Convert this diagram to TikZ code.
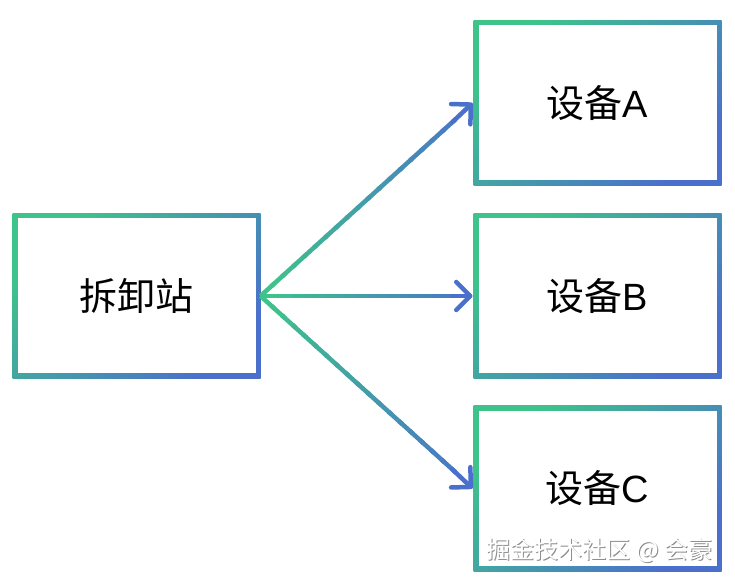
\documentclass[tikz,border=0pt]{standalone}
\usepackage{fontspec}
\setmainfont{Liberation Sans}
\newfontfamily\cjk{Noto Sans CJK SC}
\usepackage{tikz}
\usepackage{xcolor}
\usetikzlibrary{arrows.meta,calc}

\definecolor{grn}{RGB}{62,196,138}
\definecolor{blu}{RGB}{74,112,204}
\tikzset{
  box/.style={minimum width=248pt, minimum height=165pt, inner sep=0pt, outer sep=0pt,
    font=\fontsize{38}{42}\selectfont,
    path picture={
      \shade[top color=grn, bottom color=blu, shading angle=45]
        (path picture bounding box.south west) rectangle (path picture bounding box.north east);
      \fill[white] ([shift={(5pt,5pt)}]path picture bounding box.south west)
        rectangle ([shift={(-5pt,-5pt)}]path picture bounding box.north east);
    }},
  link/.style={line width=4.5pt},
  wmtext/.style={font=\cjk\fontsize{24}{27}\selectfont}
}

\begin{document}
\begin{tikzpicture}[x=1pt,y=1pt]
                    \useasboundingbox (0,0) rectangle (735,583);
                    \node[box] (st) at (136.5,287) {{\cjk 拆卸站}};
                    \node[box] (a) at (597.5,480) {{\cjk 设备}A};
                    \node[box] (b) at (597.5,287) {{\cjk 设备}B};
                    \node[box] (c) at (597.5,94.5) {{\cjk 设备}C};
                    \foreach \t in {a,b,c}{
                      \foreach \i in {0,...,17}{
                        \pgfmathtruncatemacro\p{100-\i*5}
                        \draw[link, color=grn!\p!blu] ($(st.east)!{\i/20}!(\t.west)$) -- ($(st.east)!{(\i+1.3)/20}!(\t.west)$);
                      }
                      \draw[link, color=blu, line cap=round, -{Straight Barb[length=14pt,width=28pt,round]}] ($(st.east)!0.9!(\t.west)$) -- ([xshift=-1pt]\t.west);
                    }
                    \node[wmtext, text=gray!90] (wmshadow) at (600.5,32) {掘金技术社区 @ 会豪};
                    \node[wmtext, text=white] (wm) at (599.5,33) {掘金技术社区 @ 会豪};
                \end{tikzpicture}
\end{document}
